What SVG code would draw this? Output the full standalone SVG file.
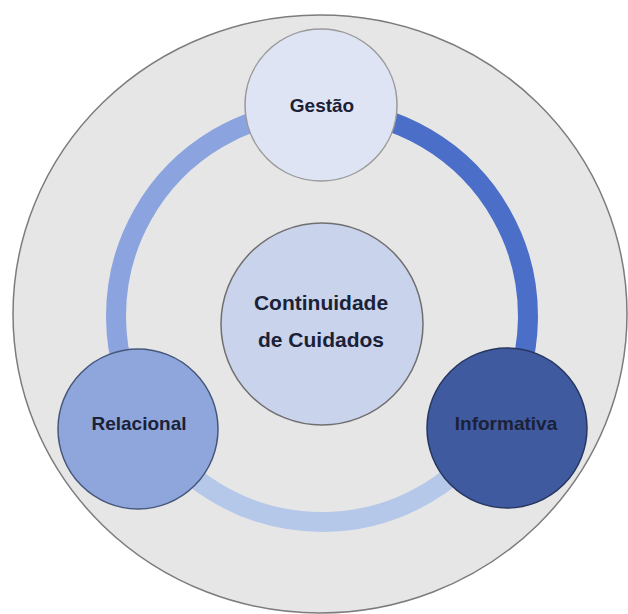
<svg xmlns="http://www.w3.org/2000/svg" width="628" height="614" viewBox="0 0 628 614">
  <style>
    .lbl { font-family: "Liberation Sans", Arial, sans-serif; font-weight: bold; fill: #1b2136; text-anchor: middle; }
    .arc { fill: none; stroke-width: 20; }
  </style>
  <rect x="0" y="0" width="628" height="614" fill="#ffffff"/>
  <g id="outer">
    <ellipse cx="320" cy="314" rx="307" ry="299" fill="#e6e6e6" stroke="#7c7c7c" stroke-width="1.5"/>
  </g>
  <g id="connectors">
    <path class="arc" d="M 322 110 A 206 206 0 0 0 146 423" stroke="#8ba3de"/>
    <path class="arc" d="M 322 110 A 206 206 0 0 1 498 423" stroke="#4b6fc8"/>
    <path class="arc" d="M 146 423 A 206 206 0 0 0 498 423" stroke="#b6c8e9"/>
  </g>
  <g id="gestao">
    <circle cx="321" cy="105" r="76" fill="#dfe4f5" stroke="#9a9a9a" stroke-width="1.5"/>
    <text class="lbl" x="322" y="112" font-size="19">Gestão</text>
  </g>
  <g id="continuidade">
    <circle cx="322" cy="324" r="101" fill="#c9d4ec" stroke="#6f6f6f" stroke-width="1.5"/>
    <text class="lbl" x="321" y="310" font-size="21">Continuidade</text>
    <text class="lbl" x="321" y="347" font-size="21">de Cuidados</text>
  </g>
  <g id="relacional">
    <circle cx="138" cy="429" r="80" fill="#8fa6dd" stroke="#47577a" stroke-width="1.5"/>
    <text class="lbl" x="139" y="430" font-size="19">Relacional</text>
  </g>
  <g id="informativa">
    <circle cx="507" cy="428" r="80" fill="#3f5a9f" stroke="#27365f" stroke-width="1.5"/>
    <text class="lbl" x="506" y="430" font-size="19">Informativa</text>
  </g>
</svg>
